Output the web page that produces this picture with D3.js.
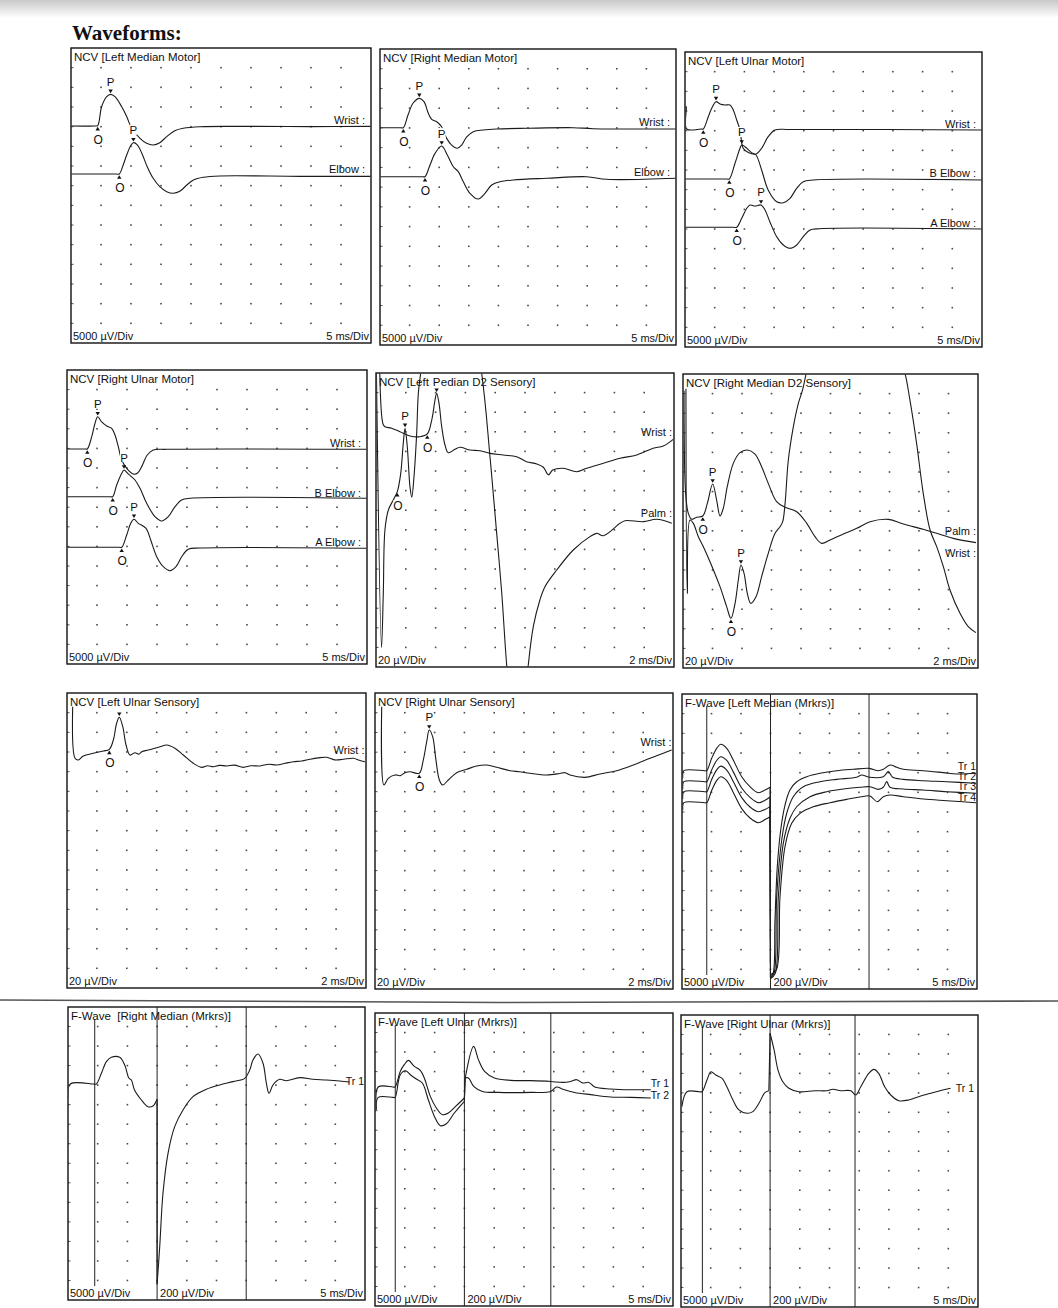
<!DOCTYPE html>
<html><head><meta charset="utf-8">
<script src="https://cdn.jsdelivr.net/npm/d3@7"></script>
<style>body{margin:0;background:#fff}svg{display:block}text{font-family:"Liberation Sans",Arial,sans-serif}</style>
</head><body>
<svg id="c" width="1058" height="1308"></svg>
<script>
// ================= DATA =================
const panelTitles = [
  ["NCV [Left Median Motor]"],["NCV [Right Median Motor]"],["NCV [Left Ulnar Motor]"],
  ["NCV [Right Ulnar Motor]"],["NCV [Left","edian D2 Sensory]"],["NCV [Right Median D2 Sensory]"],
  ["NCV [Left Ulnar Sensory]"],["NCV [Right Ulnar Sensory]"],["F-Wave [Left Median (Mrkrs)]"],
  ["F-Wave\u00a0\u00a0[Right Median (Mrkrs)]"],["F-Wave [Left Ulnar (Mrkrs)]"],["F-Wave [Right Ulnar (Mrkrs)]"]];
const gainLabels = ["5000 µV/Div","5000 µV/Div","5000 µV/Div","5000 µV/Div","20 µV/Div","20 µV/Div",
  "20 µV/Div","20 µV/Div","5000 µV/Div","5000 µV/Div","5000 µV/Div","5000 µV/Div"];
const lateGainLabel = "200 µV/Div";
const sweepLabels = ["5 ms/Div","5 ms/Div","5 ms/Div","5 ms/Div","2 ms/Div","2 ms/Div",
  "2 ms/Div","2 ms/Div","5 ms/Div","5 ms/Div","5 ms/Div","5 ms/Div"];
const traceNames = [
  ["Wrist :","Elbow :"],["Wrist :","Elbow :"],["Wrist :","B Elbow :","A Elbow :"],
  ["Wrist :","B Elbow :","A Elbow :"],["Wrist :","Palm :"],["Palm :","Wrist :"],
  ["Wrist :"],["Wrist :"],["Tr 1","Tr 2","Tr 3","Tr 4"],["Tr 1"],["Tr 1","Tr 2"],["Tr 1"]];

// Motor waveforms: [ms, mV]
const lmmWrist = [[0,0],[4.0,0],[4.45,0.1],[5.1,4.9],[5.95,7.45],[6.6,8.05],[7.33,7.45],[8.45,4.9],[9.3,2.37],[10.1,-0.58],[11.5,-3.13],[12.6,-4.4],[13.7,-4.83],[14.8,-4.25],[15.95,-2.7],[17.3,-1.2],[18.7,-0.58],[21.5,-0.18],[29.8,-0.1],[40,-0.15],[50,-0.1]];
const lmmElbow = [[0,0],[7.5,0],[8.05,0],[8.7,2.3],[9.28,4.83],[9.95,7.2],[10.4,7.96],[11.05,7.38],[11.8,5.27],[12.7,1.86],[13.7,-1.1],[14.8,-3.23],[15.95,-4.5],[17.05,-4.9],[18.2,-4.33],[19.3,-2.8],[20.4,-1.53],[22.05,-0.84],[24.8,-0.5],[38.2,-0.6],[50,-0.6]];
const rmmWrist = [[0,0],[3.5,0],[3.94,0],[4.73,3.2],[5.57,6.2],[6.64,7.44],[7.43,6.6],[8.16,3.65],[8.73,2.1],[9.58,1.5],[10.4,0.25],[11.26,-2.7],[12.1,-4.4],[13.06,-5.2],[13.8,-4.4],[14.65,-2.3],[15.76,-1.0],[17.45,-0.58],[19.7,-0.33],[24.8,-0.15],[32.65,0],[36,-0.25],[50,-0.33]];
const rmmElbow = [[0,0],[7.2,0],[7.6,0],[8.45,2.96],[9.29,5.9],[10.42,7.77],[11.37,5.5],[12.38,2.53],[13.22,1.27],[14.07,-1.27],[15.2,-4.2],[16.6,-5.65],[17.74,-4.2],[18.87,-2.1],[20.3,-1.27],[22.5,-0.84],[28.16,-0.4],[34.9,0],[38.3,-0.66],[50,-0.4]];
const lumWrist = [[0,0],[0.08,5.7],[0.2,5.7],[0.28,0],[2.7,0],[3.08,0],[3.92,3.13],[4.5,5.27],[5.22,6.95],[5.9,6.36],[6.73,6.1],[7.58,6.1],[8.13,4.83],[8.7,2.3],[9.26,-0.25],[9.8,-4.9],[10.66,-6.0],[11.95,-6.36],[12.9,-4.9],[14.0,-1.96],[15.15,-0.25],[17.7,-0.13],[50,-0.25]];
const lumBElbow = [[0,0],[7.0,0],[7.46,0],[8.42,4.0],[9.26,7.8],[9.55,8.65],[10.1,8.2],[11.23,6.7],[11.95,6.1],[12.9,2.3],[14.0,-2.8],[15.44,-5.78],[16.55,-6.03],[17.68,-4.9],[18.8,-2.37],[19.9,-0.7],[21.6,-0.25],[50,-0.25]];
const lumAElbow = [[0,0],[8.2,0],[8.7,0],[9.55,2.3],[10.4,4.83],[10.94,5.67],[11.8,5.4],[12.8,5.67],[13.47,4.4],[14.3,1.35],[15.44,-2.4],[16.55,-4.5],[17.68,-5.34],[18.8,-4.5],[19.9,-2.4],[21.04,-0.7],[22.7,-0.35],[50,-0.43]];
const rumWrist = [[0,0],[3.0,0],[3.38,0],[4.12,3.14],[4.67,6.56],[5.12,8.24],[5.78,6.9],[6.62,5.87],[7.45,5.28],[8.0,3.57],[8.55,0.59],[9.12,-2.8],[9.95,-4.92],[11.05,-6.38],[11.72,-6.2],[12.45,-4.5],[13.38,-1.53],[14.38,-0.26],[16.6,-0.08],[50,-0.08]];
const rumBElbow = [[0,0],[7.2,0],[7.62,0],[8.28,2.98],[9.12,5.97],[9.5,6.8],[10.2,5.8],[11.33,4.26],[12.17,2.14],[13.28,-1.68],[14.67,-5.1],[15.78,-6.2],[16.88,-5.1],[18.0,-2.55],[19.1,-0.84],[20.5,-0.4],[50,-0.4]];
const rumAElbow = [[0,0],[8.7,0],[9.12,0],[9.95,3.14],[10.62,6.12],[11.17,7.14],[11.88,6.12],[13.17,4.85],[13.95,1.86],[14.95,-2.4],[16.05,-4.95],[17.17,-5.97],[18.17,-4.95],[19.12,-2.4],[20.2,-0.5],[22.17,-0.18],[50,-0.25]];

// Sensory waveforms: [ms, µV]
const lmsWrist = [[0.25,62],[0.47,8],[0.6,5.2],[1.05,3.6],[1.61,0.1],[2.28,-4.3],[2.95,-5.0],[3.44,-2.2],[3.74,12.0],[3.96,32.4],[4.07,39.3],[4.23,29],[4.41,5.2],[4.63,-13.5],[4.85,-21.3],[5.3,-17.9],[5.64,-15.8],[6.31,-18.6],[6.98,-19.3],[7.65,-22],[8.54,-23.7],[9.44,-25.4],[10.1,-30.5],[10.79,-32.8],[11.23,-36.2],[11.57,-44],[11.86,-39],[12.57,-37.2],[13.47,-40.7],[14.14,-37.2],[15.26,-32.1],[16.38,-27],[17.5,-23.7],[18.6,-16.8],[19.28,-14.5],[19.95,-7.7]];
const lmsPalm = [[0.03,140],[0.37,-140],[0.49,-84.8],[0.6,-20.2],[0.83,0.2],[1.16,10.4],[1.43,18.9],[1.66,37.6],[1.83,68.2],[1.95,83.5],[2.1,64.8],[2.28,24],[2.4,13.2],[2.55,34.2],[2.73,78.4],[2.84,119],[3.0,140],[5.0,330],[7.09,140],[7.65,54.6],[8.1,-23.6],[8.44,-84.8],[8.77,-158],[9.5,-280],[10.22,-158],[10.56,-118.6],[11.0,-91.6],[11.34,-78],[12.13,-61],[13.24,-40.6],[14.36,-27],[14.81,-23.6],[15.26,-26],[16.38,-13.4],[16.71,-10.7],[17.94,-11.7],[18.84,-9.3],[19.85,-13.4]];
const rmsPalm = [[0.07,143],[0.18,38],[0.36,17.8],[0.59,11.7],[0.93,13.8],[1.34,15.1],[1.65,28],[2.01,47.7],[2.28,31.4],[2.51,15.1],[2.73,22.9],[3.0,45],[3.41,68.8],[3.86,79.7],[4.36,82.4],[4.88,78.3],[5.33,65.4],[5.78,48.4],[6.35,29.7],[6.92,24],[7.71,19.5],[8.39,7.6],[8.95,-6],[9.4,-12.8],[9.97,-9.4],[10.87,-3.3],[11.78,2.5],[12.68,9.3],[13.92,11.7],[14.94,6.9],[16.29,1.5],[17.2,-2.6],[18.33,-7.7],[19.86,-12.1]];
const rmsWrist = [[0.2,165],[0.29,-44],[0.47,31],[0.7,27.6],[1.04,14],[1.38,3.8],[1.83,-11.5],[2.51,-37],[2.96,-57.4],[3.25,-69.3],[3.53,-54],[3.75,-30.2],[3.93,-14.9],[4.14,-23.4],[4.36,-43.8],[4.59,-54],[4.95,-47.2],[5.33,-26.8],[5.78,-3],[6.24,17.4],[6.58,24.2],[6.76,29.3],[6.92,48],[7.14,92],[7.48,126],[7.82,150],[8.11,164],[8.6,200],[11.5,420],[14.6,200],[15.05,180.6],[15.39,153],[15.84,109],[16.29,58],[16.75,20.8],[17.2,3.8],[17.65,-16.6],[18.1,-40.4],[18.78,-64.2],[19.34,-77.8],[19.86,-83.9]];
const lusWrist = [[0.38,45.9],[0.54,-6.6],[0.76,-8.3],[1.09,-4.3],[1.76,-1.5],[2.43,0.8],[2.83,2.5],[3.1,12],[3.32,29],[3.5,35.1],[3.73,25.5],[3.95,6.9],[4.21,-3.3],[4.55,-0.9],[4.8,-2.4],[5.0,0.1],[5.44,1.8],[6.22,5.2],[6.67,6.9],[7.22,3.6],[7.78,-3.3],[8.45,-11.7],[9.01,-15.8],[9.4,-14.2],[9.79,-15.2],[10.2,-13.8],[10.68,-14.4],[11.2,-13.6],[11.79,-15.8],[12.3,-14.2],[12.91,-14.4],[13.5,-12.6],[14.03,-13.4],[14.6,-11.6],[15.14,-10.1],[15.7,-9.4],[16.25,-7.6],[16.8,-6.2],[17.37,-5.6],[17.9,-8.2],[18.48,-7.6],[19.15,-6.6],[19.55,-8.6],[19.93,-10.1]];
const rusWrist = [[0.45,66],[0.6,-13.3],[0.89,-6.5],[1.34,-3.1],[1.7,-3.8],[2.01,-0.8],[2.35,0.2],[2.97,-1.4],[3.24,12],[3.47,30.6],[3.64,42.5],[3.87,35.7],[4.09,12],[4.32,-8.2],[4.54,-13.3],[4.92,-8.2],[5.48,-0.8],[6.15,2.6],[6.82,6],[7.5,7],[8.17,4.7],[9.06,1.2],[9.7,0.2],[10.4,-1.4],[11.52,-3.1],[12.4,-1.6],[12.75,-0.8],[13.09,-3.1],[14.09,-5.5],[15.1,-2.1],[16.22,1.2],[17.34,7],[18.46,13.8],[19.35,18.9],[19.91,22.2]];

// F-wave: early part [ms, µV] at 5000 µV/Div, late part [ms, µV] at 200 µV/Div
const flmEarly1 = [[0.05,0],[0.12,-1800],[0.3,0],[3.8,0],[4.19,0],[5.03,3150],[5.88,5690],[6.56,6706],[7.58,5690],[8.69,2718],[10.12,-1524],[11.53,-4064],[12.93,-5588],[14.07,-4902],[14.92,-4216]];
const flmLate1 = [[15.0,-2100],[15.45,-2060],[15.76,-1518],[16.15,-976],[16.73,-603],[17.46,-349],[18.3,-196],[19.44,-112],[21.14,-61],[23.39,-26],[26.2,0],[29.03,14],[31.75,24],[33.27,0],[34.12,14],[35.25,58],[36.39,35],[37.5,14],[40.9,0],[44.29,-20],[46.56,-34],[49.83,-26]];
const flmEarly2 = [[0.05,0],[0.12,-1800],[0.3,0],[3.8,0],[4.19,0],[5.03,3000],[5.88,5400],[6.56,6350],[7.58,5400],[8.69,2500],[10.12,-1600],[11.53,-4000],[12.93,-5330],[14.07,-4700],[14.92,-3900]];
const flmLate2 = [[15.0,-2000],[15.6,-1949],[16.05,-1170],[16.9,-593],[17.75,-321],[18.86,-153],[20.56,-51],[23.39,0],[26.2,24],[29.6,45],[30.46,68],[31.75,45],[34.12,51],[34.97,102],[35.7,45],[37.5,24],[40.9,10],[44.86,0],[49.83,-16]];
const flmEarly3 = [[0.05,0],[0.12,-1800],[0.3,0],[3.8,0],[4.19,0],[5.03,3100],[5.88,5550],[6.56,6500],[7.58,5500],[8.69,2600],[10.12,-1500],[11.53,-3900],[12.93,-5080],[14.07,-4500],[14.92,-3800]];
const flmLate3 = [[15.0,-1900],[15.8,-1850],[16.33,-1068],[17.17,-525],[18.3,-270],[19.44,-153],[21.7,-51],[24.52,0],[27.34,27],[30.17,45],[31.86,51],[33.27,24],[34.12,45],[34.7,102],[35.25,45],[37.5,27],[40.9,17],[44.86,0],[49.83,-16]];
const flmEarly4 = [[0.05,0],[0.12,-1800],[0.3,0],[3.8,0],[4.19,0],[5.03,3100],[5.88,5600],[6.56,6600],[7.58,5600],[8.69,2600],[10.12,-1500],[11.53,-3900],[12.93,-5080],[14.07,-4300],[14.92,-3560]];
const flmLate4 = [[15.0,-1750],[16.0,-1700],[16.61,-956],[17.46,-447],[18.59,-210],[20.0,-108],[22.25,-41],[25.08,0],[27.92,34],[30.46,61],[31.86,68],[33.1,10],[34.12,61],[35.25,78],[37.5,61],[40.9,37],[44.86,20],[49.83,0]];
const frmEarly1 = [[0,-3600],[0.4,0],[4.3,0],[4.78,0],[5.62,2740],[6.46,5710],[7.3,6840],[8.7,6840],[9.55,4860],[10.27,1460],[10.67,1020],[11.2,-1540],[12.36,-4100],[13.47,-5810],[14.31,-5630],[15.0,-3900]];
const frmLate1 = [[15.0,-2050],[15.44,-1666],[15.99,-1119],[16.84,-710],[17.96,-437],[19.36,-266],[21.04,-130],[23.3,-54],[25.54,-10],[27.78,24],[29.75,58],[30.59,143],[31.14,246],[31.99,307],[32.83,212],[33.4,7],[33.84,-95],[34.51,-10],[35.64,48],[36.77,34],[39.0,65],[41.25,48],[43.5,41],[45.74,31],[47.4,20]];
const fluEarly1 = [[0.2,-5810],[0.54,0],[3.0,0],[3.37,0],[4.24,3990],[4.91,5710],[5.6,6810],[6.6,5270],[7.6,4250],[8.27,2300],[9.28,-2400],[10.3,-5380],[11.31,-7090],[12.31,-6660],[13.65,-4790],[15.0,-2820]];
const fluLate1 = [[15.14,92],[16.55,416],[17.35,280],[18.38,160],[20.05,92],[22.75,68],[26.1,65],[29.47,57],[31.5,47],[32.84,57],[33.85,75],[34.86,41],[35.87,47],[36.87,0],[39.57,-20],[42.92,-28],[46.28,-28]];
const fluEarly2 = [[0.2,-3150],[0.54,0],[3.0,0],[3.37,0],[4.24,5810],[5.11,6840],[5.93,5810],[6.93,4710],[7.94,3690],[8.94,-590],[9.97,-4860],[10.97,-7240],[11.98,-6730],[13.32,-3990],[15.0,-1020]];
const fluLate2 = [[15.1,199],[15.68,199],[16.55,113],[18.04,61],[20.72,51],[26.1,51],[29.47,61],[30.47,106],[31.5,84],[33.5,51],[36.2,28],[39.57,4],[42.92,0],[46.28,-6]];
const fruEarly1 = [[0.15,-3840],[1.0,0],[3.1,0],[3.55,0],[4.37,2990],[5.04,5120],[5.85,4270],[6.92,3430],[7.72,1280],[8.74,-2120],[9.75,-4680],[11.09,-5530],[12.09,-5120],[13.12,-2970],[14.12,-256],[14.79,256]];
const fruLate1 = [[15.0,598],[15.68,427],[16.33,222],[17.14,102],[18.16,35],[19.83,0],[22.53,10],[24.54,10],[25.56,25],[26.9,10],[28.59,10],[29.4,-34],[30.27,51],[31.61,188],[32.48,229],[33.28,188],[34.29,51],[35.31,-34],[36.65,-92],[38.34,-85],[40.02,-51],[42.03,-16],[44.05,17],[45.39,35]];

// Latencies [onset, peak] in ms per trace
const lmmLat = [[4.45,6.6],[8.05,10.4]];
const rmmLat = [[3.94,6.64],[7.6,10.42]];
const lumLat = [[3.08,5.22],[7.46,9.55],[8.7,12.8]];
const rumLat = [[3.38,5.12],[7.62,9.5],[9.12,11.17]];
const lmsLat = [[3.44,4.07],[1.43,1.95]];
const rmsLat = [[1.34,2.01],[3.25,3.93]];
const lusLat = [[2.83,3.5]];
const rusLat = [[2.97,3.64]];
// F-wave cursor positions (ms)
const flmCursors = [4.2,15,31.7];
const frmCursors = [4.5,15,30];
const fluCursors = [3.4,15,29.5];
const fruCursors = [3.6,15,29.3];

// ================= LAYOUT =================
const layout = [
 {L:71, T:48, W:300,H:295,kind:"ncv",span:50,gain:5, traces:[lmmWrist,lmmElbow],lat:lmmLat,bases:[78,126],lbls:[76,125.3],inset:6},
 {L:380,T:49, W:296,H:296,kind:"ncv",span:50,gain:5, traces:[rmmWrist,rmmElbow],lat:rmmLat,bases:[78.7,127.7],lbls:[76.5,126.5],inset:6},
 {L:685,T:52, W:297,H:295,kind:"ncv",span:50,gain:5, traces:[lumWrist,lumBElbow,lumAElbow],lat:lumLat,bases:[77,127,175.3],lbls:[76,125,174.5],inset:6},
 {L:67, T:370,W:300,H:294,kind:"ncv",span:50,gain:5, traces:[rumWrist,rumBElbow,rumAElbow],lat:rumLat,bases:[79,126.7,177.3],lbls:[76.5,126.5,175.5],inset:6},
 {L:376,T:373,W:298,H:294,kind:"ncv",span:20,gain:20,traces:[lmsWrist,lmsPalm],lat:lmsLat,bases:[58.8,137.2],lbls:[62.5,143.5],inset:2,titleSplitAt:0},
 {L:683,T:374,W:295,H:294,kind:"ncv",span:20,gain:20,traces:[rmsPalm,rmsWrist],lat:rmsLat,bases:[156.8,176.4],lbls:[160.5,183],inset:2},
 {L:67, T:693,W:299,H:295,kind:"ncv",span:20,gain:20,traces:[lusWrist],lat:lusLat,bases:[58.8],lbls:[61],inset:1.5,noP:true},
 {L:375,T:693,W:298,H:296,kind:"ncv",span:20,gain:20,traces:[rusWrist],lat:rusLat,bases:[78.9],lbls:[52.5],inset:1.5},
 {L:682,T:694,W:295,H:295,kind:"fw",span:50,traces:[[flmEarly1,flmLate1],[flmEarly2,flmLate2],[flmEarly3,flmLate3],[flmEarly4,flmLate4]],cur:flmCursors,bases:[76.7,87.7,97.7,108.7],lbls:[76,86,96,106.5],inset:1},
 {L:68, T:1007,W:297,H:293,kind:"fw",span:50,traces:[[frmEarly1,frmLate1]],cur:frmCursors,bases:[77],lbls:[78],inset:1},
 {L:375,T:1013,W:298,H:293,kind:"fw",span:50,traces:[[fluEarly1,fluLate1],[fluEarly2,fluLate2]],cur:fluCursors,bases:[74,84.4],lbls:[73.5,86],inset:4},
 {L:681,T:1015,W:297,H:292,kind:"fw",span:50,traces:[[fruEarly1,fruLate1]],cur:fruCursors,bases:[76.7],lbls:[77],inset:4}
];

// ================= DRAW =================
const svg = d3.select("#c");
const defs = svg.append("defs");
const grad = defs.append("linearGradient").attr("id","topShade").attr("x1",0).attr("y1",0).attr("x2",0).attr("y2",1);
grad.append("stop").attr("offset","0%").attr("stop-color","#c9c9c9");
grad.append("stop").attr("offset","100%").attr("stop-color","#ffffff");
svg.append("rect").attr("width",1058).attr("height",1308).attr("fill","#fff");
svg.append("rect").attr("width",1058).attr("height",18).attr("fill","url(#topShade)");

svg.append("text").attr("x",72).attr("y",40).text("Waveforms:")
  .style("font-family",'"Liberation Serif","Times New Roman",serif').style("font-weight","bold").style("font-size","21px").attr("fill","#111");

// page fold line
svg.append("path").attr("d",d3.line()([[0,1000],[500,1002.5],[1058,1001]])).attr("stroke","#555").attr("stroke-width",1.6).attr("fill","none");

const curve = d3.line().curve(d3.curveCatmullRom.alpha(0.5));
const straight = d3.line();

function valAt(data,t){
  const i = d3.bisector(d=>d[0]).left(data,t);
  if(i<=0) return data[0][1];
  if(i>=data.length) return data[data.length-1][1];
  const a=data[i-1], b=data[i];
  return a[1]+(b[1]-a[1])*(t-a[0])/(b[0]-a[0]);
}

layout.forEach((p,idx)=>{
  const g = svg.append("g");
  const divY = p.H/15;
  const x = d3.scaleLinear().domain([0,p.span]).range([p.L,p.L+p.W]);
  const yFor = (base,gain)=>d3.scaleLinear().domain([gain*base/divY, gain*(base-p.H)/divY]).range([p.T,p.T+p.H]);

  defs.append("clipPath").attr("id","clip"+idx).append("rect")
    .attr("x",p.L+0.5).attr("y",p.T+0.5).attr("width",p.W-1).attr("height",p.H-1);

  // grid dots
  const cols = d3.range(1,10).map(i=>x(i*p.span/10));
  const rows = d3.range(1,15).map(j=>p.T+j*divY);
  const dots = [];
  cols.forEach(cx=>rows.forEach(cy=>dots.push([cx,cy])));
  g.selectAll(null).data(dots).enter().append("rect")
    .attr("x",d=>d[0]-0.8).attr("y",d=>d[1]-0.8).attr("width",1.6).attr("height",1.6).attr("fill","#4a4a4a");
  // left ticks
  g.selectAll(null).data(rows).enter().append("line")
    .attr("x1",p.L).attr("x2",p.L+2.5).attr("y1",d=>d).attr("y2",d=>d).attr("stroke","#555").attr("stroke-width",1);

  // frame
  g.append("rect").attr("x",p.L).attr("y",p.T).attr("width",p.W).attr("height",p.H)
    .attr("fill","none").attr("stroke","#111").attr("stroke-width",1.4);

  const tg = g.append("g").attr("clip-path","url(#clip"+idx+")");
  const traceStroke = {stroke:"#1b1b1b", w:1.1};

  if(p.kind==="ncv"){
    p.traces.forEach((data,k)=>{
      const y = yFor(p.bases[k], p.gain);
      tg.append("path").attr("d",curve(data.map(d=>[x(d[0]),y(d[1])])))
        .attr("fill","none").attr("stroke",traceStroke.stroke).attr("stroke-width",traceStroke.w);
    });
  } else {
    p.traces.forEach((pair,k)=>{
      const yE = yFor(p.bases[k],5000), yL = yFor(p.bases[k],200);
      const e = pair[0].map(d=>[x(d[0]),yE(d[1])]);
      const l = pair[1].map(d=>[x(d[0]),yL(d[1])]);
      tg.append("path").attr("d",curve(e)).attr("fill","none").attr("stroke",traceStroke.stroke).attr("stroke-width",traceStroke.w);
      tg.append("path").attr("d",straight([e[e.length-1],l[0]])).attr("fill","none").attr("stroke",traceStroke.stroke).attr("stroke-width",traceStroke.w);
      tg.append("path").attr("d",curve(l)).attr("fill","none").attr("stroke",traceStroke.stroke).attr("stroke-width",traceStroke.w);
    });
    // cursors
    p.cur.forEach((c,ci)=>{
      g.append("line").attr("x1",x(c)).attr("x2",x(c))
        .attr("y1",ci===0?p.T+12:p.T).attr("y2",ci===0?p.T+p.H-14:p.T+p.H)
        .attr("stroke","#222").attr("stroke-width",1);
    });
  }

  // title (a peak marker letter may sit inside the title, as on the print)
  const tParts = panelTitles[idx];
  g.append("text").attr("x",p.L+3).attr("y",p.T+13).text(tParts[0])
    .style("font-size","11.5px").attr("fill","#111");
  if(tParts.length>1){
    const k = p.titleSplitAt;
    const pxm = x(p.lat[k][1]);
    g.append("text").attr("x",pxm+4.2).attr("y",p.T+13).text(tParts[1])
      .style("font-size","11.5px").attr("fill","#111");
  }

  // bottom labels
  g.append("text").attr("x",p.L+2).attr("y",p.T+p.H-3).text(gainLabels[idx]).style("font-size","11px").attr("fill","#111");
  g.append("text").attr("x",p.L+p.W-2).attr("y",p.T+p.H-3).attr("text-anchor","end").text(sweepLabels[idx]).style("font-size","11px").attr("fill","#111");
  if(p.kind==="fw"){
    g.append("text").attr("x",x(p.cur[1])+3).attr("y",p.T+p.H-3).text(lateGainLabel).style("font-size","11px").attr("fill","#111");
  }

  // trace labels
  traceNames[idx].forEach((nm,k)=>{
    g.append("text").attr("x",p.L+p.W-p.inset).attr("y",p.T+p.lbls[k]).attr("text-anchor","end")
      .text(nm).style("font-size", p.kind==="fw" ? "10.5px" : "11px").attr("fill","#111");
  });

  // markers
  if(p.kind==="ncv"){
    p.traces.forEach((data,k)=>{
      const y = yFor(p.bases[k], p.gain);
      const [tO,tP] = p.lat[k];
      const ox = x(tO), oy = y(valAt(data,tO));
      const px = x(tP), py = y(valAt(data,tP));
      const inTitle = (p.titleSplitAt===k);
      // onset marker
      g.append("path").attr("d",`M${ox},${oy+1.2}L${ox-2.2},${oy+4.8}L${ox+2.2},${oy+4.8}Z`).attr("fill","#111");
      g.append("rect").attr("x",ox-4).attr("y",oy+8.5).attr("width",9).attr("height",10).attr("fill","#fff");
      g.append("text").attr("x",ox+0.5).attr("y",oy+18).attr("text-anchor","middle").text("O").style("font-size","12px").attr("fill","#111");
      // peak marker
      g.append("path").attr("d",`M${px},${py-1.2}L${px-2.2},${py-4.8}L${px+2.2},${py-4.8}Z`).attr("fill","#111");
      if(!p.noP){
        const ly = inTitle ? p.T+13 : py-8.5;
        g.append("rect").attr("x",px-4).attr("y",ly-9.5).attr("width",8).attr("height",10).attr("fill","#fff");
        g.append("text").attr("x",px).attr("y",ly).attr("text-anchor","middle").text("P").style("font-size","11.5px").attr("fill","#111");
      }
    });
  }
});
</script>
</body></html>
